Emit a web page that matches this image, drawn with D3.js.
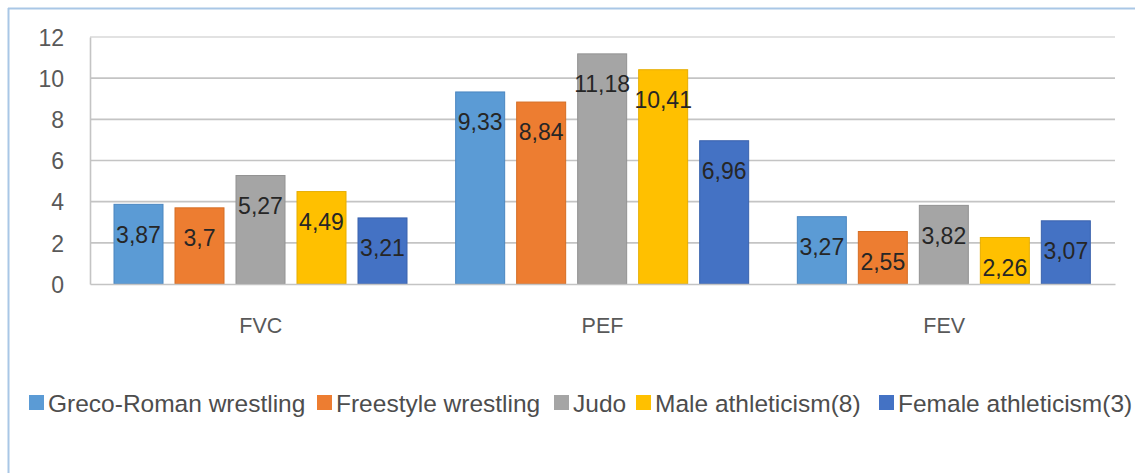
<!DOCTYPE html>
<html><head><meta charset="utf-8">
<script src="https://cdn.jsdelivr.net/npm/d3@7"></script>
<style>body{margin:0;background:#fff}svg{display:block}text{font-family:"Liberation Sans",Arial,sans-serif}</style>
</head><body>
<svg id="c" width="1135" height="473"></svg>
<script>
const categories = ["FVC", "PEF", "FEV"];
const seriesNames = ["Greco-Roman wrestling", "Freestyle wrestling", "Judo", "Male athleticism(8)", "Female athleticism(3)"];
const greco = [3.87, 9.33, 3.27];
const freestyle = [3.7, 8.84, 2.55];
const judo = [5.27, 11.18, 3.82];
const maleAth = [4.49, 10.41, 2.26];
const femaleAth = [3.21, 6.96, 3.07];
const yTicks = [0, 2, 4, 6, 8, 10, 12];
const colors = ["#5b9bd5", "#ed7d31", "#a5a5a5", "#ffc000", "#4472c4"];
const strokes = ["#4a86c0", "#d56e25", "#929292", "#e6ad00", "#3a63ad"];

const values = [greco, freestyle, judo, maleAth, femaleAth];
const svg = d3.select("#c");

// outer border (top & left visible)
svg.append("line").attr("x1", 8).attr("x2", 1135).attr("y1", 8.5).attr("y2", 8.5).attr("stroke", "#a9c7e6").attr("stroke-width", 2);
svg.append("line").attr("x1", 8.5).attr("x2", 8.5).attr("y1", 8).attr("y2", 473).attr("stroke", "#a9c7e6").attr("stroke-width", 2);

const pLeft = 90, pRight = 1115, pTop = 37, pBottom = 284;
const y = d3.scaleLinear().domain([0, 12]).range([pBottom, pTop]);
const x0 = d3.scaleBand().domain(categories).range([pLeft, pRight]).padding(0);
const x1 = d3.scaleBand().domain(seriesNames).range([24, 317]).paddingInner(12 / 61).paddingOuter(0);

// gridlines
const grid = svg.append("g");
grid.selectAll("line").data(yTicks.filter(t => t > 0)).join("line")
  .attr("x1", pLeft).attr("x2", pRight)
  .attr("y1", d => y(d)).attr("y2", d => y(d))
  .attr("stroke", d => d === 12 ? "#d9d9d9" : "#c4c4c4").attr("stroke-width", 1.6);

// y axis
const yAxis = svg.append("g").attr("transform", `translate(${pLeft},0)`)
  .call(d3.axisLeft(y).tickValues(yTicks).tickSize(0).tickPadding(26).tickFormat(d3.format("d")));
yAxis.select(".domain").attr("stroke", "#c4c4c4").attr("stroke-width", 1.6);
yAxis.selectAll("text").attr("font-size", 23).attr("fill", "#595959").attr("dy", "0.36em");

// bars
const groups = svg.append("g").selectAll("g").data(categories).join("g")
  .attr("transform", d => `translate(${x0(d)},0)`);
groups.each(function(cat, ci) {
  const g = d3.select(this);
  const data = seriesNames.map((s, si) => ({ s, si, v: values[si][ci] }));
  g.selectAll("rect").data(data).join("rect")
    .attr("x", d => x1(d.s)).attr("width", x1.bandwidth())
    .attr("y", d => y(d.v)).attr("height", d => y(0) - y(d.v))
    .attr("fill", d => colors[d.si]).attr("stroke", d => strokes[d.si]).attr("stroke-width", 1);
  g.selectAll("text").data(data).join("text")
    .attr("x", d => x1(d.s) + x1.bandwidth() / 2)
    .attr("y", d => y(d.v) + 30)
    .attr("dy", "0.36em")
    .attr("text-anchor", "middle").attr("font-size", 23).attr("fill", "#262626")
    .text(d => String(d.v).replace(".", ","));
});

// x axis
const xAxis = svg.append("g").attr("transform", `translate(0,${pBottom})`)
  .call(d3.axisBottom(x0).tickSize(0).tickPadding(34));
xAxis.select(".domain").attr("stroke", "#c4c4c4").attr("stroke-width", 1.6);
xAxis.selectAll("text").attr("font-size", 21.5).attr("fill", "#595959");

// legend
const legendX = [29, 317, 554, 636, 879];
const leg = svg.append("g").selectAll("g").data(seriesNames).join("g")
  .attr("transform", (d, i) => `translate(${legendX[i]},403)`);
leg.append("rect").attr("x", 0).attr("y", -8).attr("width", 15).attr("height", 15)
  .attr("fill", (d, i) => colors[i]);
leg.append("text").attr("x", 19).attr("y", 0).attr("dy", "0.36em")
  .attr("font-size", 24.5).attr("fill", "#4d4d4d").text(d => d);
</script>
</body></html>
